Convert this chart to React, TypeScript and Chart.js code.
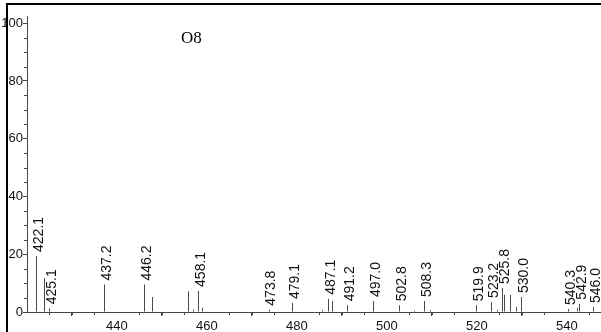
import React, { useEffect, useRef } from 'react';
import { Chart, registerables } from 'chart.js';

Chart.register(...registerables);

// Peak m/z positions and relative intensities (%)
const mzValues = [
  422.1, 424.0, 425.1, 437.2, 446.2, 448.0, 456.0, 457.0, 458.1, 459.0,
  473.8, 479.1, 485.6, 487.1, 487.9, 491.2, 497.0, 502.8, 506.2, 508.3,
  509.8, 519.9, 523.2, 524.7, 525.8, 526.2, 527.5, 528.8, 530.0, 540.3,
  542.3, 542.9, 546.0,
];
const intensities = [
  19.4, 11.8, 1.3, 9.5, 9.5, 5.2, 7.2, 0.9, 7.3, 1.5,
  0.8, 3.1, 0.7, 4.6, 3.8, 2.3, 3.8, 2.3, 0.5, 3.8,
  0.7, 2.3, 3.5, 0.8, 8.3, 6.0, 6.0, 1.7, 5.2, 1.0,
  1.5, 2.9, 1.7,
];
const peakLabels = [
  '422.1', '', '425.1', '437.2', '446.2', '', '', '', '458.1', '',
  '473.8', '479.1', '', '487.1', '', '491.2', '497.0', '502.8', '', '508.3',
  '', '519.9', '523.2', '', '525.8', '', '', '', '530.0', '540.3',
  '', '542.9', '546.0',
];
const xTickValues = [440, 460, 480, 500, 520, 540];
const yTickValues = [0, 20, 40, 60, 80, 100];
const xMinorTicks = [425, 430, 435, 445, 450, 455, 465, 470, 475, 485, 490, 495, 505, 510, 515, 525, 530, 535, 545];
const yMinorTicks = [5, 10, 15, 25, 30, 35, 45, 50, 55, 65, 70, 75, 85, 90, 95];
const chartTitle = 'O8';

const X_MIN = 420;
const X_MAX = 547.6;
const Y_MIN = 0;
const Y_MAX = 102.5;

const overlayPlugin = {
  id: 'specOverlay',
  afterDatasetUpdate(chart: any) {
    const meta = chart.getDatasetMeta(0);
    meta.data.forEach((el: any) => {
      el.x = Math.floor(el.x) + 0.5;
    });
  },
  afterDatasetsDraw(chart: any) {
    const { ctx, scales } = chart;
    const xs = scales.x;
    const ys = scales.y;
    const bottom = ys.getPixelForValue(0);
    const left = xs.getPixelForValue(X_MIN);
    ctx.save();
    ctx.strokeStyle = '#444';
    ctx.lineWidth = 1;
    ctx.beginPath();
    xMinorTicks.forEach((v) => {
      const px = Math.round(xs.getPixelForValue(v)) + 0.5;
      ctx.moveTo(px, bottom);
      ctx.lineTo(px, bottom + 3);
    });
    yMinorTicks.forEach((v) => {
      const py = Math.round(ys.getPixelForValue(v)) + 0.5;
      ctx.moveTo(left - 3, py);
      ctx.lineTo(left, py);
    });
    ctx.stroke();
    ctx.fillStyle = '#111';
    ctx.font = '14px "Liberation Sans", Arial, sans-serif';
    ctx.textAlign = 'left';
    ctx.textBaseline = 'middle';
    mzValues.forEach((mz, i) => {
      const lab = peakLabels[i];
      if (!lab) return;
      const px = xs.getPixelForValue(mz);
      const py = ys.getPixelForValue(intensities[i]);
      ctx.save();
      ctx.translate(px + 2.5, py - 4);
      ctx.rotate(-Math.PI / 2);
      ctx.fillText(lab, 0, 0);
      ctx.restore();
    });
    ctx.fillStyle = '#000';
    ctx.font = '17px "Liberation Serif", "Times New Roman", serif';
    ctx.textAlign = 'left';
    ctx.textBaseline = 'alphabetic';
    ctx.fillText(chartTitle, 181, 43);
    ctx.restore();
  },
};

export default function App() {
  const ref = useRef<HTMLCanvasElement | null>(null);
  useEffect(() => {
    if (!ref.current) return;
    const chart = new Chart(ref.current, {
      type: 'bar',
      data: {
        datasets: [
          {
            data: mzValues.map((mz, i) => ({ x: mz, y: intensities[i] })),
            backgroundColor: '#4a4a4a',
            borderWidth: 0,
            barThickness: 1,
            inflateAmount: 0,
          },
        ],
      },
      options: {
        animation: false,
        responsive: false,
        devicePixelRatio: 1,
        layout: { padding: { top: 16, right: 0, left: 0, bottom: 0 } },
        plugins: { legend: { display: false }, tooltip: { enabled: false }, title: { display: false } },
        scales: {
          x: {
            type: 'linear',
            min: X_MIN,
            max: X_MAX,
            offset: false,
            afterBuildTicks: (s: any) => {
              s.ticks = xTickValues.map((v) => ({ value: v }));
            },
            afterFit: (s: any) => {
              s.height = 20;
            },
            grid: { display: true, drawOnChartArea: false, drawTicks: true, tickLength: 4, color: '#444' },
            border: { display: true, color: '#444', width: 1 },
            ticks: {
              autoSkip: false,
              maxRotation: 0,
              padding: 3,
              color: '#111',
              font: { family: '"Liberation Sans", Arial, sans-serif', size: 13 },
              callback: (v: any) => String(v),
            },
          },
          y: {
            type: 'linear',
            min: Y_MIN,
            max: Y_MAX,
            afterBuildTicks: (s: any) => {
              s.ticks = yTickValues.map((v) => ({ value: v }));
            },
            afterFit: (s: any) => {
              s.width = 27;
            },
            grid: { display: true, drawOnChartArea: false, drawTicks: true, tickLength: 4, color: '#444' },
            border: { display: true, color: '#444', width: 1 },
            ticks: {
              padding: 0,
              color: '#111',
              font: { family: '"Liberation Sans", Arial, sans-serif', size: 13 },
              callback: (v: any) => String(v),
            },
          },
        },
      },
      plugins: [overlayPlugin],
    } as any);
    return () => chart.destroy();
  }, []);
  return (
    <div style={{ position: 'fixed', left: 0, top: 0, width: 601, height: 332, background: '#fff', overflow: 'hidden' }}>
      <canvas ref={ref} width={601} height={332} style={{ position: 'absolute', left: 0, top: 0 }} />
      <div
        style={{
          position: 'absolute',
          left: 6,
          top: 3,
          width: 700,
          height: 400,
          borderLeft: '2px solid #000',
          borderTop: '2px solid #000',
          pointerEvents: 'none',
        }}
      />
    </div>
  );
}
